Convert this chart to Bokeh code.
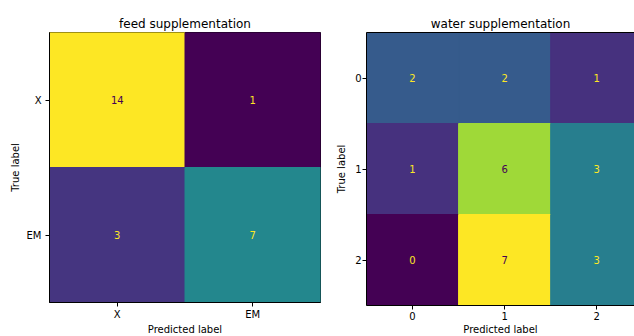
from bokeh.plotting import figure
from bokeh.models import ColumnDataSource, Range1d, FixedTicker, LinearAxis, LinearColorMapper
from bokeh.palettes import Viridis256
from bokeh.layouts import row
from bokeh.transform import transform
from bokeh.embed import file_html
from bokeh.resources import INLINE

# ---- data ----
feed_title = "feed supplementation"
feed_labels = ["X", "EM"]
feed_matrix = [[14, 1],
               [3, 7]]

water_title = "water supplementation"
water_labels = ["0", "1", "2"]
water_matrix = [[2, 2, 1],
                [1, 6, 3],
                [0, 7, 3]]

FONT = "DejaVu Sans"
LO_COL = Viridis256[0]
HI_COL = Viridis256[-1]


def make_source(matrix):
    flat = [v for r in matrix for v in r]
    lo, hi = min(flat), max(flat)
    thresh = (lo + hi) / 2.0
    xs, ys, vals, txt, tcol = [], [], [], [], []
    for i, r in enumerate(matrix):
        for j, v in enumerate(r):
            xs.append(j)
            ys.append(i)
            vals.append(v)
            txt.append(str(v))
            tcol.append(HI_COL if v < thresh else LO_COL)
    src = ColumnDataSource(dict(x=xs, y=ys, v=vals, t=txt, tc=tcol))
    mapper = LinearColorMapper(palette=Viridis256, low=lo, high=hi)
    return src, mapper


def style_axes(p, labels, ylab_standoff, tick_standoff_y):
    n = len(labels)
    ticks = list(range(n))
    overrides = {i: lab for i, lab in enumerate(labels)}
    for ax in (p.xaxis[0], p.yaxis[0]):
        ax.ticker = FixedTicker(ticks=ticks)
        ax.major_label_overrides = overrides
        ax.minor_tick_line_color = None
        ax.major_tick_in = 0
        ax.major_tick_out = 4
        ax.major_tick_line_color = "black"
        ax.axis_line_color = "black"
        ax.major_label_text_font = FONT
        ax.major_label_text_font_size = "10px"
        ax.major_label_text_color = "black"
        ax.axis_label_text_font = FONT
        ax.axis_label_text_font_size = "10px"
        ax.axis_label_text_font_style = "normal"
        ax.axis_label_text_color = "black"
    p.xaxis[0].axis_label = "Predicted label"
    p.yaxis[0].axis_label = "True label"
    p.xaxis[0].major_label_standoff = 2
    p.xaxis[0].axis_label_standoff = 1
    p.yaxis[0].major_label_standoff = tick_standoff_y
    p.yaxis[0].axis_label_standoff = ylab_standoff
    p.xgrid.grid_line_color = None
    p.ygrid.grid_line_color = None


def draw_cells(p, src, mapper):
    p.rect(x="x", y="y", width=1, height=1, source=src,
           fill_color=transform("v", mapper),
           line_color=transform("v", mapper), line_width=1)
    p.text(x="x", y="y", text="t", source=src, text_color="tc",
           text_align="center", text_baseline="middle",
           text_font_size="10px", text_font={"value": FONT})


def style_title(p):
    p.title.text_font = FONT
    p.title.text_font_size = "12px"
    p.title.text_font_style = "normal"
    p.title.text_color = "black"
    p.title.align = "center"
    p.title.standoff = 4


# ---- left: feed ----
n1 = len(feed_labels)
p1 = figure(title=feed_title, output_backend="svg", toolbar_location=None,
            frame_width=271, frame_height=270,
            x_range=Range1d(-0.5, n1 - 0.5), y_range=Range1d(n1 - 0.5, -0.5),
            min_border_left=49, min_border_right=10,
            min_border_top=32, min_border_bottom=34,
            background_fill_color="white", border_fill_color="white")
src1, map1 = make_source(feed_matrix)
draw_cells(p1, src1, map1)
style_axes(p1, feed_labels, ylab_standoff=3, tick_standoff_y=4)
style_title(p1)
p1.outline_line_color = "black"
p1.outline_line_width = 1

# ---- right: water ----
n2 = len(water_labels)
p2 = figure(title=water_title, output_backend="svg", toolbar_location=None,
            frame_width=268, frame_height=273,
            x_range=Range1d(-0.5, 2.41), y_range=Range1d(n2 - 0.5, -0.5),
            min_border_left=36, min_border_right=0,
            min_border_top=32, min_border_bottom=31,
            background_fill_color="white", border_fill_color="white")
src2, map2 = make_source(water_matrix)
draw_cells(p2, src2, map2)
style_axes(p2, water_labels, ylab_standoff=5, tick_standoff_y=1)
style_title(p2)
p2.title.offset = 7
p2.outline_line_color = None
top_axis = LinearAxis(ticker=FixedTicker(ticks=[]), major_tick_in=0, major_tick_out=0,
                      major_label_standoff=0, minor_tick_line_color=None,
                      axis_line_color="black", major_label_text_font_size="0px")
p2.add_layout(top_axis, "above")

layout = row(p1, p2)
open("out.html", "w").write(file_html(layout, INLINE))
